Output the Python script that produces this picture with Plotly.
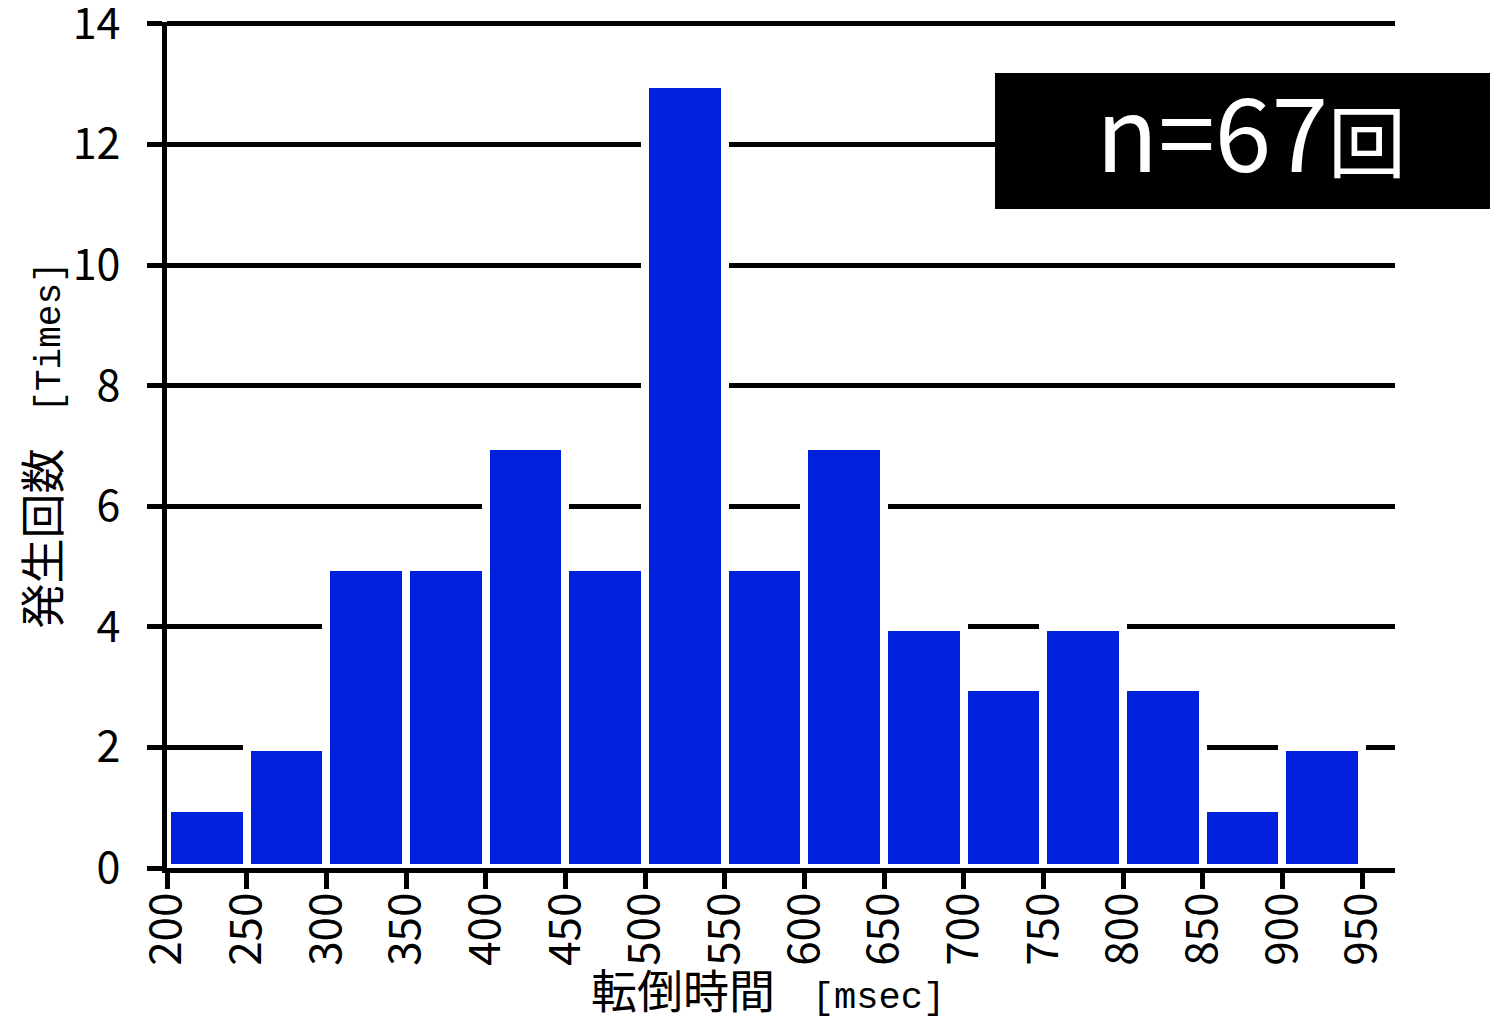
import plotly.graph_objects as go

bin_left = [200, 250, 300, 350, 400, 450, 500, 550, 600, 650, 700, 750, 800, 850, 900]
counts = [1, 2, 5, 5, 7, 5, 13, 5, 7, 4, 3, 4, 3, 1, 2]
x_ticks = [200, 250, 300, 350, 400, 450, 500, 550, 600, 650, 700, 750, 800, 850, 900, 950]
y_ticks = [0, 2, 4, 6, 8, 10, 12, 14]
bin_width = 50
n_text = "n=67"
n_unit = "回"

centers = [b + bin_width / 2 for b in bin_left]

FONT = "Noto Sans CJK JP"
MONO = "Liberation Mono"

fig = go.Figure()
fig.add_trace(go.Bar(
    x=centers, y=counts, width=[bin_width] * len(centers),
    marker=dict(color="#0221DC", line=dict(color="white", width=8)),
))

# page body adds an 8px offset; compensate
W, H = 1490, 1013
L, R, T, B = 159, 103, 14, 153
PW, PH = W - L - R, H - T - B

fig.update_layout(
    template="none",
    width=W, height=H,
    margin=dict(l=L, r=R, t=T, b=B),
    paper_bgcolor="white", plot_bgcolor="white",
    bargap=0, showlegend=False,
    font=dict(family=FONT, color="black"),
)
fig.update_xaxes(
    automargin=False,
    range=[200, 970.7], tickvals=x_ticks, ticktext=[str(v) for v in x_ticks],
    tickangle=-90, tickfont=dict(size=44, family=FONT),
    showline=True, linecolor="black", linewidth=5,
    ticks="outside", ticklen=16, tickwidth=5, tickcolor="black",
    ticklabelstandoff=-14, ticklabeloverflow="allow",
    showgrid=False, zeroline=False,
    title=dict(text=f"転倒時間<span style='font-family:{MONO};font-size:37px'>　[msec]</span>"
                    f"<span style='color:white;font-size:26px'>　</span>",
               font=dict(size=46, family=FONT), standoff=6),
)
fig.update_yaxes(
    automargin=False,
    range=[0, 14.03], tickvals=y_ticks,
    tickfont=dict(size=43, family=FONT),
    showline=True, linecolor="black", linewidth=5,
    ticks="outside", ticklen=15, tickwidth=5, tickcolor="black",
    ticklabelstandoff=18, ticklabeloverflow="allow",
    showgrid=True, gridcolor="black", gridwidth=5, zeroline=False,
    title=dict(text=f"発生回数<span style='font-family:{MONO};font-size:36px'>　[Times]</span>",
               font=dict(size=45, family=FONT), standoff=36),
)

fig.add_shape(type="rect", xref="paper", yref="paper",
              x0=(995 - 167) / PW, x1=(1498 - 167) / PW,
              y0=(868 - 209) / PH, y1=(868 - 73) / PH,
              fillcolor="black", line=dict(width=0), layer="above")
fig.add_annotation(xref="paper", yref="paper",
                   x=(1251 - 167) / PW, y=(868 - 128) / PH,
                   text=f"{n_text}<span style='font-size:78px'>{n_unit}</span>",
                   showarrow=False,
                   font=dict(size=102, color="white", family=FONT),
                   xanchor="center", yanchor="middle")

fig.write_html("out.html")
